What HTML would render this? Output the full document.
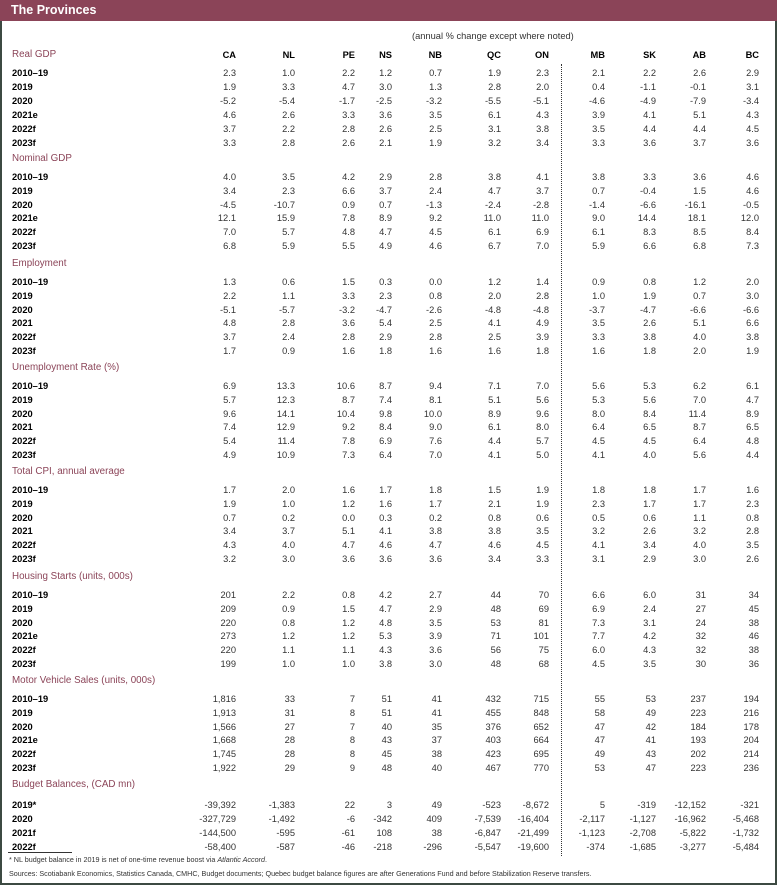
<!DOCTYPE html>
<html><head><meta charset="utf-8">
<style>
body{margin:0;width:777px;height:887px;background:#fff;position:relative;overflow:hidden;font-family:"Liberation Sans",sans-serif;}
.band{position:absolute;left:0;top:0;width:777px;height:21px;background:#8b4458;color:#fff;font-weight:bold;font-size:12.5px;line-height:21px;}
.band span{position:absolute;left:11px;}
.frame{position:absolute;left:0;top:21px;width:773px;height:862px;border:2px solid #3c4a42;border-top:none;}
.r{position:absolute;left:0;width:777px;height:12px;line-height:12px;font-size:9.3px;color:#333;}
.r .l{position:absolute;left:12px;font-weight:bold;color:#000;}
.r span.c{position:absolute;text-align:right;width:60px;}
.h{position:absolute;left:12px;font-size:9.8px;color:#8b4458;height:12px;line-height:12px;}
.ch span.c{font-weight:bold;color:#000;}
.dot{position:absolute;left:561px;top:64px;height:792px;border-left:1px dotted #333;}
.note{position:absolute;left:412px;top:31px;font-size:9.3px;color:#333;}
.fn{position:absolute;left:9px;font-size:7.2px;color:#333;}
.ul{position:absolute;left:8px;top:852px;width:64px;border-top:1px solid #333;}
</style></head><body>
<div class="band"><span>The Provinces</span></div>
<div class="frame"></div>
<div class="note">(annual % change except where noted)</div>
<div class="dot"></div>
<div class="ul"></div>
<div id="c"></div>
<div class="fn" style="top:855px">* NL budget balance in 2019 is net of one-time revenue boost via <i>Atlantic Accord</i>.</div>
<div class="fn" style="top:869px">Sources: Scotiabank Economics, Statistics Canada, CMHC, Budget documents; Quebec budget balance figures are after Generations Fund and before Stabilization Reserve transfers.</div>
<script>
var E=[236,295,355,392,442,501,549,605,656,706,759];
function row(top,label,vals,cls){var d=document.createElement('div');d.className='r '+(cls||'');d.style.top=top+'px';var h=label?'<span class="l">'+label+'</span>':'';vals.forEach(function(v,i){h+='<span class="c" style="left:'+(E[i]-60)+'px">'+v+'</span>';});d.innerHTML=h;document.getElementById('c').appendChild(d);}
function hd(top,t){var d=document.createElement('div');d.className='h';d.style.top=top+'px';d.textContent=t;document.getElementById('c').appendChild(d);}
var S=[
["Real GDP",55,14,[["2010–19","2.3 1.0 2.2 1.2 0.7 1.9 2.3 2.1 2.2 2.6 2.9"],["2019","1.9 3.3 4.7 3.0 1.3 2.8 2.0 0.4 -1.1 -0.1 3.1"],["2020","-5.2 -5.4 -1.7 -2.5 -3.2 -5.5 -5.1 -4.6 -4.9 -7.9 -3.4"],["2021e","4.6 2.6 3.3 3.6 3.5 6.1 4.3 3.9 4.1 5.1 4.3"],["2022f","3.7 2.2 2.8 2.6 2.5 3.1 3.8 3.5 4.4 4.4 4.5"],["2023f","3.3 2.8 2.6 2.1 1.9 3.2 3.4 3.3 3.6 3.7 3.6"]]],
["Nominal GDP",159,13.8,[["2010–19","4.0 3.5 4.2 2.9 2.8 3.8 4.1 3.8 3.3 3.6 4.6"],["2019","3.4 2.3 6.6 3.7 2.4 4.7 3.7 0.7 -0.4 1.5 4.6"],["2020","-4.5 -10.7 0.9 0.7 -1.3 -2.4 -2.8 -1.4 -6.6 -16.1 -0.5"],["2021e","12.1 15.9 7.8 8.9 9.2 11.0 11.0 9.0 14.4 18.1 12.0"],["2022f","7.0 5.7 4.8 4.7 4.5 6.1 6.9 6.1 8.3 8.5 8.4"],["2023f","6.8 5.9 5.5 4.9 4.6 6.7 7.0 5.9 6.6 6.8 7.3"]]],
["Employment",264,13.8,[["2010–19","1.3 0.6 1.5 0.3 0.0 1.2 1.4 0.9 0.8 1.2 2.0"],["2019","2.2 1.1 3.3 2.3 0.8 2.0 2.8 1.0 1.9 0.7 3.0"],["2020","-5.1 -5.7 -3.2 -4.7 -2.6 -4.8 -4.8 -3.7 -4.7 -6.6 -6.6"],["2021","4.8 2.8 3.6 5.4 2.5 4.1 4.9 3.5 2.6 5.1 6.6"],["2022f","3.7 2.4 2.8 2.9 2.8 2.5 3.9 3.3 3.8 4.0 3.8"],["2023f","1.7 0.9 1.6 1.8 1.6 1.6 1.8 1.6 1.8 2.0 1.9"]]],
["Unemployment Rate (%)",368,13.8,[["2010–19","6.9 13.3 10.6 8.7 9.4 7.1 7.0 5.6 5.3 6.2 6.1"],["2019","5.7 12.3 8.7 7.4 8.1 5.1 5.6 5.3 5.6 7.0 4.7"],["2020","9.6 14.1 10.4 9.8 10.0 8.9 9.6 8.0 8.4 11.4 8.9"],["2021","7.4 12.9 9.2 8.4 9.0 6.1 8.0 6.4 6.5 8.7 6.5"],["2022f","5.4 11.4 7.8 6.9 7.6 4.4 5.7 4.5 4.5 6.4 4.8"],["2023f","4.9 10.9 7.3 6.4 7.0 4.1 5.0 4.1 4.0 5.6 4.4"]]],
["Total CPI, annual average",472,13.8,[["2010–19","1.7 2.0 1.6 1.7 1.8 1.5 1.9 1.8 1.8 1.7 1.6"],["2019","1.9 1.0 1.2 1.6 1.7 2.1 1.9 2.3 1.7 1.7 2.3"],["2020","0.7 0.2 0.0 0.3 0.2 0.8 0.6 0.5 0.6 1.1 0.8"],["2021","3.4 3.7 5.1 4.1 3.8 3.8 3.5 3.2 2.6 3.2 2.8"],["2022f","4.3 4.0 4.7 4.6 4.7 4.6 4.5 4.1 3.4 4.0 3.5"],["2023f","3.2 3.0 3.6 3.6 3.6 3.4 3.3 3.1 2.9 3.0 2.6"]]],
["Housing Starts (units, 000s)",577,13.8,[["2010–19","201 2.2 0.8 4.2 2.7 44 70 6.6 6.0 31 34"],["2019","209 0.9 1.5 4.7 2.9 48 69 6.9 2.4 27 45"],["2020","220 0.8 1.2 4.8 3.5 53 81 7.3 3.1 24 38"],["2021e","273 1.2 1.2 5.3 3.9 71 101 7.7 4.2 32 46"],["2022f","220 1.1 1.1 4.3 3.6 56 75 6.0 4.3 32 38"],["2023f","199 1.0 1.0 3.8 3.0 48 68 4.5 3.5 30 36"]]],
["Motor Vehicle Sales (units, 000s)",681,13.8,[["2010–19","1,816 33 7 51 41 432 715 55 53 237 194"],["2019","1,913 31 8 51 41 455 848 58 49 223 216"],["2020","1,566 27 7 40 35 376 652 47 42 184 178"],["2021e","1,668 28 8 43 37 403 664 47 41 193 204"],["2022f","1,745 28 8 45 38 423 695 49 43 202 214"],["2023f","1,922 29 9 48 40 467 770 53 47 223 236"]]],
["Budget Balances, (CAD mn)",785,14,[["2019*","-39,392 -1,383 22 3 49 -523 -8,672 5 -319 -12,152 -321"],["2020","-327,729 -1,492 -6 -342 409 -7,539 -16,404 -2,117 -1,127 -16,962 -5,468"],["2021f","-144,500 -595 -61 108 38 -6,847 -21,499 -1,123 -2,708 -5,822 -1,732"],["2022f","-58,400 -587 -46 -218 -296 -5,547 -19,600 -374 -1,685 -3,277 -5,484"]]]];
S.forEach(function(s,k){hd(s[1]-6,s[0]);var base=s[1]+(k==7?20:18);s[3].forEach(function(r,i){row(Math.round(base+i*s[2])-6,r[0],r[1].split(' '));});});
row(49,'', "CA NL PE NS NB QC ON MB SK AB BC".split(' '),'ch');
</script>
</body></html>
